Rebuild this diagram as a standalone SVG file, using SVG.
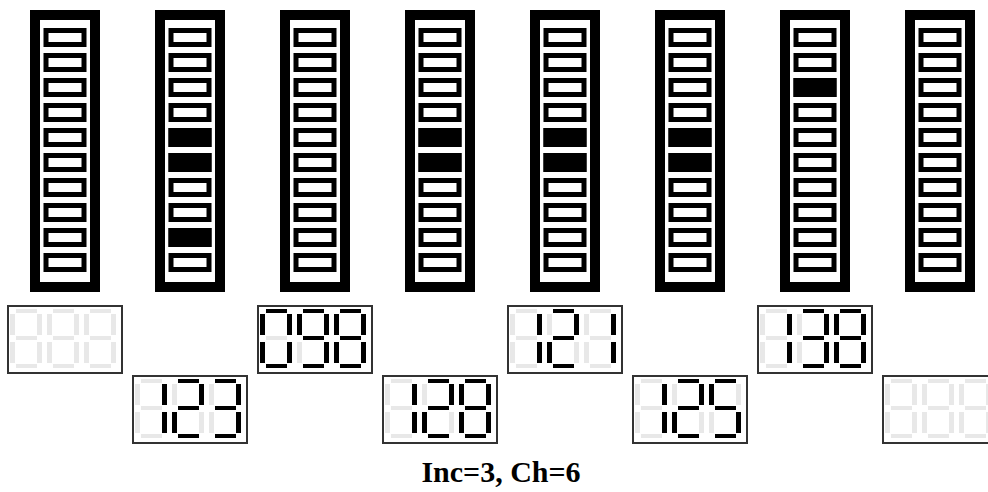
<svg xmlns="http://www.w3.org/2000/svg" xmlns:xlink="http://www.w3.org/1999/xlink" width="988" height="492" viewBox="0 0 988 492">
<style>
.frame{fill:none;stroke:#000;stroke-width:10}
.sw{fill:#fff;stroke:#000;stroke-width:5}
.sw.on{fill:#000}
.box{fill:#fff;stroke:#333;stroke-width:2}
.off{fill:#e8e8e8}
.lit{fill:#000}
.label{font-family:"Liberation Serif","Times New Roman",serif;font-weight:bold;font-size:30px;fill:#000}
</style>
<defs>
<rect id="sa" x="6" y="0" width="21" height="4"/>
<rect id="sb" x="27" y="5" width="5" height="21"/>
<rect id="sc" x="27" y="33" width="5" height="21"/>
<rect id="sd" x="6" y="55" width="21" height="4"/>
<rect id="se" x="0" y="33" width="5" height="21"/>
<rect id="sf" x="0" y="5" width="5" height="21"/>
<rect id="sg" x="6" y="27" width="21" height="4"/>
<g id="D8"><use href="#sa"/><use href="#sb"/><use href="#sc"/><use href="#sd"/><use href="#se"/><use href="#sf"/><use href="#sg"/></g>
<g id="D0"><use href="#sa"/><use href="#sb"/><use href="#sc"/><use href="#sd"/><use href="#se"/><use href="#sf"/></g>
<g id="D1"><use href="#sb"/><use href="#sc"/></g>
<g id="D2"><use href="#sa"/><use href="#sb"/><use href="#sg"/><use href="#se"/><use href="#sd"/></g>
<g id="D3"><use href="#sa"/><use href="#sb"/><use href="#sg"/><use href="#sc"/><use href="#sd"/></g>
<g id="D5"><use href="#sa"/><use href="#sf"/><use href="#sg"/><use href="#sc"/><use href="#sd"/></g>
<g id="D9"><use href="#sa"/><use href="#sb"/><use href="#sc"/><use href="#sd"/><use href="#sf"/><use href="#sg"/></g>
<g id="blank"><rect class="box" x="1" y="1" width="114" height="67"/><g class="off"><use href="#D8" x="3" y="4"/><use href="#D8" x="40" y="4"/><use href="#D8" x="77" y="4"/></g></g>
<rect id="sw" x="16" y="0" width="38" height="14"/>
<g id="col"><rect class="frame" x="5" y="5" width="60" height="272"/>
<g class="sw"><use href="#sw" y="20.5"/><use href="#sw" y="45.5"/><use href="#sw" y="70.5"/><use href="#sw" y="95.5"/><use href="#sw" y="120.5"/><use href="#sw" y="145.5"/><use href="#sw" y="170.5"/><use href="#sw" y="195.5"/><use href="#sw" y="220.5"/><use href="#sw" y="245.5"/></g></g>
</defs>

<g id="col1" transform="translate(30,10)"><use href="#col"/></g>
<g id="col2" transform="translate(155,10)"><use href="#col"/><g class="sw on"><use href="#sw" y="120.5"/><use href="#sw" y="145.5"/><use href="#sw" y="220.5"/></g></g>
<g id="col3" transform="translate(280,10)"><use href="#col"/></g>
<g id="col4" transform="translate(405,10)"><use href="#col"/><g class="sw on"><use href="#sw" y="120.5"/><use href="#sw" y="145.5"/></g></g>
<g id="col5" transform="translate(530,10)"><use href="#col"/><g class="sw on"><use href="#sw" y="120.5"/><use href="#sw" y="145.5"/></g></g>
<g id="col6" transform="translate(655,10)"><use href="#col"/><g class="sw on"><use href="#sw" y="120.5"/><use href="#sw" y="145.5"/></g></g>
<g id="col7" transform="translate(780,10)"><use href="#col"/><g class="sw on"><use href="#sw" y="70.5"/></g></g>
<g id="col8" transform="translate(905,10)"><use href="#col"/></g>

<g id="disp-t1" transform="translate(7,305)"><use href="#blank"/></g>
<g id="disp-t2" transform="translate(257,305)"><use href="#blank"/><g class="lit"><use href="#D0" x="3" y="4"/><use href="#D9" x="40" y="4"/><use href="#D8" x="77" y="4"/></g></g>
<g id="disp-t3" transform="translate(507,305)"><use href="#blank"/><g class="lit"><use href="#D1" x="3" y="4"/><use href="#D2" x="40" y="4"/><use href="#D1" x="77" y="4"/></g></g>
<g id="disp-t4" transform="translate(757,305)"><use href="#blank"/><g class="lit"><use href="#D1" x="3" y="4"/><use href="#D3" x="40" y="4"/><use href="#D8" x="77" y="4"/></g></g>
<g id="disp-b1" transform="translate(132,375)"><use href="#blank"/><g class="lit"><use href="#D1" x="3" y="4"/><use href="#D2" x="40" y="4"/><use href="#D3" x="77" y="4"/></g></g>
<g id="disp-b2" transform="translate(382,375)"><use href="#blank"/><g class="lit"><use href="#D1" x="3" y="4"/><use href="#D2" x="40" y="4"/><use href="#D8" x="77" y="4"/></g></g>
<g id="disp-b3" transform="translate(632,375)"><use href="#blank"/><g class="lit"><use href="#D1" x="3" y="4"/><use href="#D2" x="40" y="4"/><use href="#D5" x="77" y="4"/></g></g>
<g id="disp-b4" transform="translate(882,375)"><use href="#blank"/></g>

<g id="connectors"/>

<text class="label" x="501" y="482" text-anchor="middle">Inc=3, Ch=6</text>
</svg>
